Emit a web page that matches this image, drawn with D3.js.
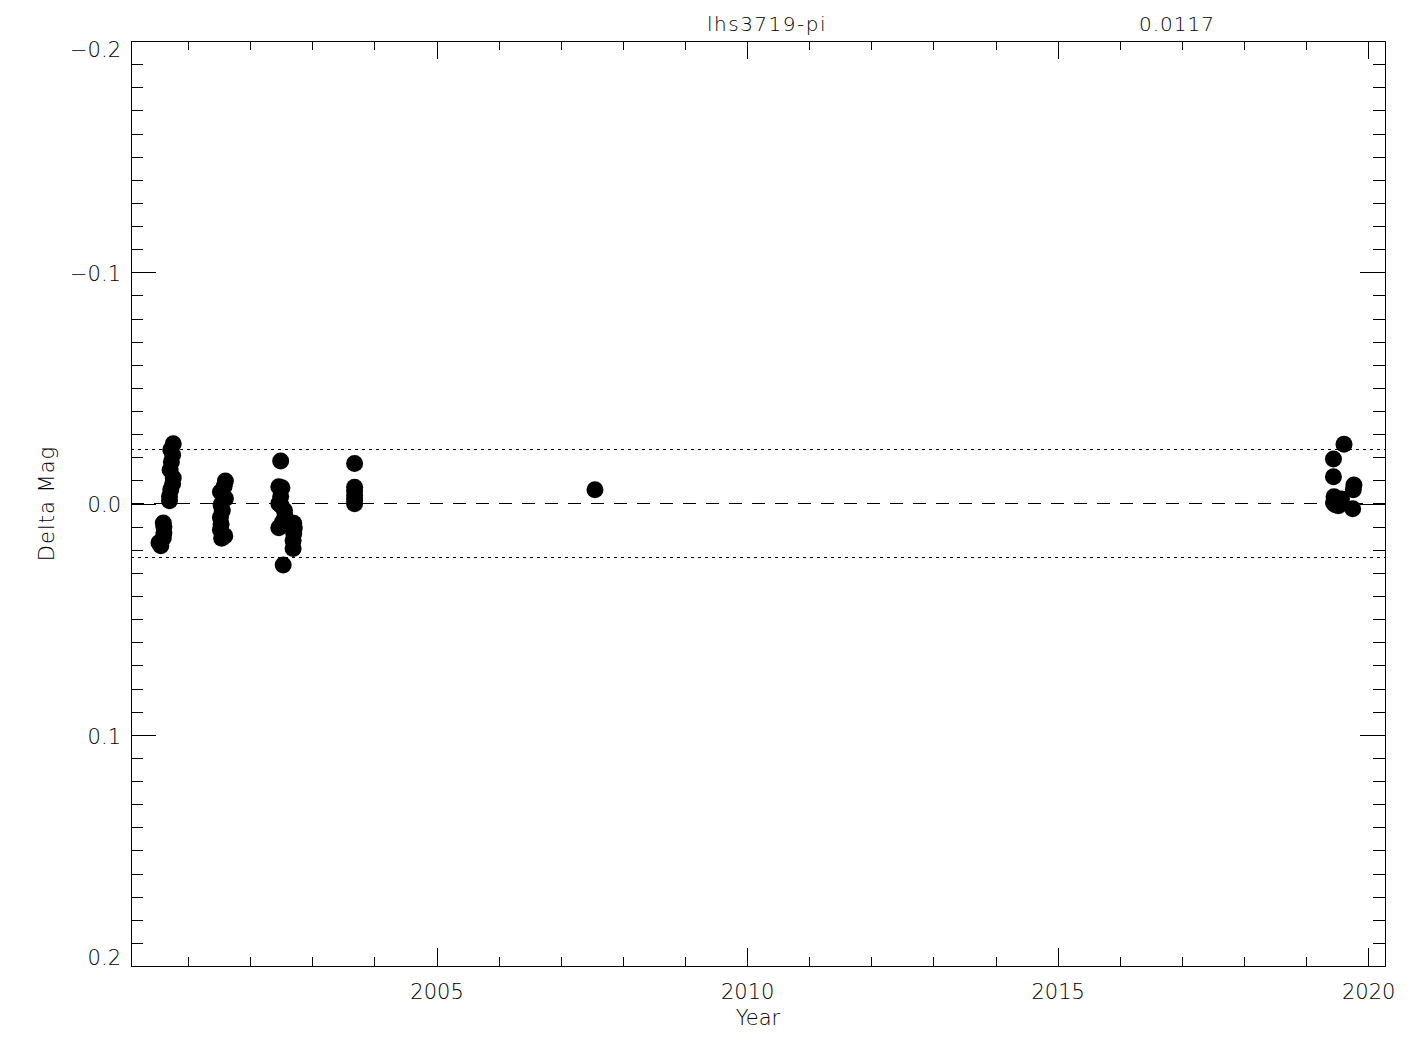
<!DOCTYPE html>
<html>
<head>
<meta charset="utf-8">
<script src="https://cdn.jsdelivr.net/npm/d3@7"></script>
<style>
  body { margin: 0; background: #fff; }
  text { font-family: "DejaVu Sans", sans-serif; font-weight: 200; fill: #000; }
</style>
</head>
<body>
<div id="chart"></div>
<script>
// Light curve: delta magnitude vs year, IDL style plot

var TITLE = "lhs3719-pi";
var SIGMA = 0.0117;

var xMajor = [2005, 2010, 2015, 2020];
var xMinor = [2001, 2002, 2003, 2004, 2006, 2007, 2008, 2009, 2011, 2012, 2013, 2014, 2016, 2017, 2018, 2019];
var yMajor = [-0.2, -0.1, 0.0, 0.1, 0.2];

var years = [
    2000.53, 2000.56, 2000.60, 2000.61, 2000.61, 2000.60,
    2000.76, 2000.72, 2000.75, 2000.73, 2000.71, 2000.76, 2000.75, 2000.72, 2000.70, 2000.70,
    2001.60, 2001.58, 2001.52, 2001.60, 2001.53, 2001.55, 2001.52, 2001.53, 2001.52, 2001.59, 2001.54,
    2002.49, 2002.46, 2002.51, 2002.49, 2002.46, 2002.50, 2002.55, 2002.56, 2002.52, 2002.46,
    2002.70, 2002.71, 2002.70, 2002.69, 2002.69, 2002.53,
    2003.68, 2003.68, 2003.68, 2003.68, 2003.68, 2003.68,
    2007.55,
    2019.61, 2019.44, 2019.44, 2019.77, 2019.76, 2019.45, 2019.44, 2019.52, 2019.75, 2019.57, 2019.47
];
var deltas = [
    0.0170, 0.0183, 0.0084, 0.0101, 0.0127, 0.0149,
    -0.0258, -0.0232, -0.0210, -0.0180, -0.0145, -0.0110, -0.0085, -0.0060, -0.0030, -0.0012,
    -0.0097, -0.0075, -0.0050, -0.0022, 0.0005, 0.0030, 0.0060, 0.0090, 0.0115, 0.0140, 0.0150,
    -0.0184, -0.0072, -0.0068, -0.0030, 0.0000, 0.0010, 0.0030, 0.0055, 0.0080, 0.0105,
    0.0085, 0.0105, 0.0130, 0.0160, 0.0195, 0.0266,
    -0.0173, -0.0070, -0.0055, -0.0035, -0.0015, 0.0001,
    -0.0059,
    -0.0256, -0.0192, -0.0116, -0.0080, -0.0060, -0.0029, -0.0003, 0.0010, 0.0023, -0.0020, 0.0005
];

var W = 1425, H = 1050;
var plot = {left: 131, right: 1385, top: 41, bottom: 966};

var svg = d3.select("#chart").append("svg")
    .attr("width", W)
    .attr("height", H);

var x = d3.scaleLinear().domain([2000.08, 2020.27]).range([plot.left, plot.right]);
var y = d3.scaleLinear().domain([-0.2, 0.2]).range([plot.top, plot.bottom]);

var fmtY = d3.format(".1f");

/** draws one set of ticks, no labels */
function ticks(axis, tx, ty){
    var g = svg.append("g")
        .attr("transform", "translate(" + tx + "," + ty + ")")
        .call(axis);
    g.select(".domain").remove();
    g.selectAll("line").attr("stroke", "#000").attr("stroke-width", 1).attr("shape-rendering", "crispEdges");
    return g;
}

// bottom axis
var gb = ticks(d3.axisBottom(x).tickValues(xMajor).tickSize(-18).tickPadding(18).tickFormat(d3.format("d")), 0, plot.bottom);
gb.selectAll("text").attr("font-size", 21).attr("font-family", "DejaVu Sans").attr("fill", "#000");
ticks(d3.axisBottom(x).tickValues(xMinor).tickSize(-9).tickFormat(""), 0, plot.bottom);
// top axis
ticks(d3.axisTop(x).tickValues(xMajor).tickSize(-18).tickFormat(""), 0, plot.top);
ticks(d3.axisTop(x).tickValues(xMinor).tickSize(-9).tickFormat(""), 0, plot.top);

// minor y ticks every 0.01
var yMinor = d3.range(-19, 20).filter(function(i){ return i % 10 != 0; }).map(function(i){ return i / 100; });

var gl = ticks(d3.axisLeft(y).tickValues(yMajor).tickSize(-25).tickPadding(10).tickFormat(fmtY), plot.left, 0);
gl.selectAll("text")
    .attr("font-size", 21).attr("font-family", "DejaVu Sans").attr("fill", "#000")
    .attr("dy", function(d){
        if (d == -0.2) return "0.75em";
        if (d == 0.2) return "-0.05em";
        return "0.4em";
    });
ticks(d3.axisLeft(y).tickValues(yMinor).tickSize(-12).tickFormat(""), plot.left, 0);
ticks(d3.axisRight(y).tickValues(yMajor).tickSize(-25).tickFormat(""), plot.right, 0);
ticks(d3.axisRight(y).tickValues(yMinor).tickSize(-12).tickFormat(""), plot.right, 0);

// frame
svg.append("rect")
    .attr("x", plot.left).attr("y", plot.top)
    .attr("width", plot.right - plot.left)
    .attr("height", plot.bottom - plot.top)
    .attr("fill", "none").attr("stroke", "#000").attr("stroke-width", 1)
    .attr("shape-rendering", "crispEdges");

// zero line and +-2 sigma lines
svg.append("line")
    .attr("x1", plot.left).attr("x2", plot.right)
    .attr("y1", y(0)).attr("y2", y(0))
    .attr("stroke", "#000").attr("stroke-dasharray", "13,10")
    .attr("shape-rendering", "crispEdges");
[-2 * SIGMA, 2 * SIGMA].forEach(function(v){
    svg.append("line")
        .attr("x1", plot.left).attr("x2", plot.right)
        .attr("y1", y(v)).attr("y2", y(v))
        .attr("stroke", "#000").attr("stroke-dasharray", "3,4")
        .attr("shape-rendering", "crispEdges");
});

// points
svg.append("g").selectAll("circle")
    .data(years)
    .enter().append("circle")
    .attr("cx", function(d){ return x(d); })
    .attr("cy", function(d, i){ return y(deltas[i]); })
    .attr("r", 8.5)
    .attr("fill", "#000");

// labels
svg.append("text")
    .attr("x", (plot.left + plot.right) / 2).attr("y", 1025)
    .attr("text-anchor", "middle").attr("font-size", 21)
    .text("Year");
svg.append("text")
    .attr("transform", "translate(47," + y(0) + ") rotate(-90)")
    .attr("text-anchor", "middle").attr("dy", "0.35em").attr("font-size", 21)
    .attr("letter-spacing", 1)
    .text("Delta Mag");
svg.append("text")
    .attr("x", 767).attr("y", 31)
    .attr("text-anchor", "middle").attr("font-size", 20)
    .attr("letter-spacing", 1.5)
    .text(TITLE);
svg.append("text")
    .attr("x", 1177).attr("y", 31)
    .attr("text-anchor", "middle").attr("font-size", 20)
    .attr("letter-spacing", 1)
    .text(d3.format(".4f")(SIGMA));
</script>
</body>
</html>
